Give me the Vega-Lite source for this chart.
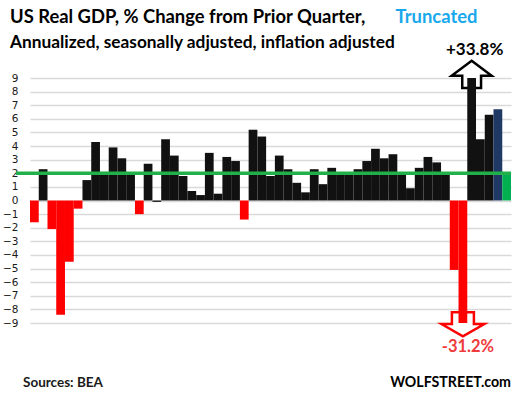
{
  "$schema": "https://vega.github.io/schema/vega-lite/v6.json",
  "width": 481,
  "height": 245,
  "autosize": {"type": "none"},
  "padding": {"left": 30, "top": 78, "right": 6, "bottom": 74},
  "background": "white",
  "config": {"view": {"stroke": null}},
  "data": {
    "values": [
      {"q": "2008Q1", "v": -1.6}, {"q": "2008Q2", "v": 2.3}, {"q": "2008Q3", "v": -2.1}, {"q": "2008Q4", "v": -8.4},
      {"q": "2009Q1", "v": -4.5}, {"q": "2009Q2", "v": -0.6}, {"q": "2009Q3", "v": 1.5}, {"q": "2009Q4", "v": 4.3},
      {"q": "2010Q1", "v": 2.1}, {"q": "2010Q2", "v": 3.9}, {"q": "2010Q3", "v": 3.1}, {"q": "2010Q4", "v": 2.0},
      {"q": "2011Q1", "v": -1.0}, {"q": "2011Q2", "v": 2.7}, {"q": "2011Q3", "v": -0.1}, {"q": "2011Q4", "v": 4.5},
      {"q": "2012Q1", "v": 3.3}, {"q": "2012Q2", "v": 1.8}, {"q": "2012Q3", "v": 0.7}, {"q": "2012Q4", "v": 0.4},
      {"q": "2013Q1", "v": 3.5}, {"q": "2013Q2", "v": 0.5}, {"q": "2013Q3", "v": 3.2}, {"q": "2013Q4", "v": 2.9},
      {"q": "2014Q1", "v": -1.4}, {"q": "2014Q2", "v": 5.2}, {"q": "2014Q3", "v": 4.7}, {"q": "2014Q4", "v": 1.8},
      {"q": "2015Q1", "v": 3.3}, {"q": "2015Q2", "v": 2.3}, {"q": "2015Q3", "v": 1.3}, {"q": "2015Q4", "v": 0.6},
      {"q": "2016Q1", "v": 2.3}, {"q": "2016Q2", "v": 1.2}, {"q": "2016Q3", "v": 2.4}, {"q": "2016Q4", "v": 2.0},
      {"q": "2017Q1", "v": 2.0}, {"q": "2017Q2", "v": 2.3}, {"q": "2017Q3", "v": 2.9}, {"q": "2017Q4", "v": 3.8},
      {"q": "2018Q1", "v": 3.1}, {"q": "2018Q2", "v": 3.4}, {"q": "2018Q3", "v": 2.0}, {"q": "2018Q4", "v": 0.9},
      {"q": "2019Q1", "v": 2.4}, {"q": "2019Q2", "v": 3.2}, {"q": "2019Q3", "v": 2.8}, {"q": "2019Q4", "v": 2.0},
      {"q": "2020Q1", "v": -5.1}, {"q": "2020Q2", "v": -31.2}, {"q": "2020Q3", "v": 33.8}, {"q": "2020Q4", "v": 4.5},
      {"q": "2021Q1", "v": 6.3}, {"q": "2021Q2", "v": 6.7}, {"q": "2021Q3", "v": 2.0}
    ]
  },
  "resolve": {"scale": {"y": "independent"}},
  "layer": [
    {
      "data": {"values": [{"label": "up"}]},
      "mark": {"type": "point", "shape": "M0,-0.68L1,0.07L0.47,0.07L0.47,0.68L-0.47,0.68L-0.47,0.07L-1,0.07Z", "size": 1600, "filled": true, "fill": "white", "stroke": "black", "strokeWidth": 2.5, "opacity": 1},
      "encoding": {
        "x": {"datum": "2020Q3", "type": "ordinal", "axis": null},
        "y": {"datum": 9.27, "type": "quantitative", "scale": {"domain": [-9, 9], "nice": false}, "axis": null}
      }
    },
    {
      "data": {"values": [{"label": "down"}]},
      "mark": {"type": "point", "shape": "M-0.55,-0.6L0.55,-0.6L0.55,-0.02L1.07,-0.02L0,0.6L-1.07,-0.02L-0.55,-0.02Z", "size": 1600, "filled": true, "fill": "white", "stroke": "#ff0000", "strokeWidth": 2.5, "opacity": 1},
      "encoding": {
        "x": {"datum": "2020Q2", "type": "ordinal", "axis": null},
        "y": {"datum": -9.1, "type": "quantitative", "scale": {"domain": [-9, 9], "nice": false}, "axis": null}
      }
    },
    {
      "mark": {"type": "bar"},
      "encoding": {
        "x": {
          "field": "q", "type": "ordinal",
          "scale": {
            "paddingInner": 0, "paddingOuter": 0,
            "domain": ["2008Q1","2008Q2","2008Q3","2008Q4","2009Q1","2009Q2","2009Q3","2009Q4","2010Q1","2010Q2","2010Q3","2010Q4","2011Q1","2011Q2","2011Q3","2011Q4","2012Q1","2012Q2","2012Q3","2012Q4","2013Q1","2013Q2","2013Q3","2013Q4","2014Q1","2014Q2","2014Q3","2014Q4","2015Q1","2015Q2","2015Q3","2015Q4","2016Q1","2016Q2","2016Q3","2016Q4","2017Q1","2017Q2","2017Q3","2017Q4","2018Q1","2018Q2","2018Q3","2018Q4","2019Q1","2019Q2","2019Q3","2019Q4","2020Q1","2020Q2","2020Q3","2020Q4","2021Q1","2021Q2","2021Q3"]
          },
          "axis": {
            "title": null, "domain": false, "ticks": false, "grid": false, "labelAngle": 0,
            "labelPadding": 37, "labelOverlap": false,
            "labelExpr": "((slice(datum.value, 4) == 'Q1' && slice(datum.value, 0, 4) != '2021') || datum.value == '2021Q2') ? slice(datum.value, 0, 4) : ''",
            "labelFont": "DejaVu Sans", "labelFontSize": 10.5, "labelColor": "#1a1a1a"
          }
        },
        "y": {
          "field": "v", "type": "quantitative",
          "scale": {"domain": [-9, 9], "clamp": true, "nice": false},
          "axis": {
            "title": null, "values": [-9, -8, -7, -6, -5, -4, -3, -2, -1, 0, 1, 2, 3, 4, 5, 6, 7, 8, 9],
            "grid": true, "gridColor": "#d9d9d9", "gridWidth": 1.3, "domain": false, "ticks": false,
            "labelPadding": 12, "labelFont": "DejaVu Sans", "labelFontSize": 10.5, "labelColor": "#1a1a1a"
          }
        },
        "color": {
          "condition": [
            {"test": "datum.q == '2021Q3'", "value": "#00b050"},
            {"test": "datum.q == '2021Q2'", "value": "#1f3864"},
            {"test": "datum.v < -0.3", "value": "#ff0000"}
          ],
          "value": "#111111"
        }
      }
    },
    {
      "data": {"values": [{"label": "avg"}]},
      "mark": {"type": "rule", "color": "#22b04b", "strokeWidth": 3.5, "xOffset": -14},
      "encoding": {
        "x": {"datum": "2008Q1", "type": "ordinal", "bandPosition": 0, "axis": null},
        "x2": {"datum": "2021Q3", "bandPosition": 1},
        "y": {"datum": 2.0, "type": "quantitative", "scale": {"domain": [-9, 9], "nice": false}, "axis": null}
      }
    },
    {
      "data": {"values": [{"label": "US Real GDP, % Change from Prior Quarter,"}]},
      "mark": {"type": "text", "font": "Lato", "fontSize": 18.4, "fontWeight": "bold", "color": "black", "baseline": "alphabetic", "align": "left", "dx": -20},
      "encoding": {
        "text": {"field": "label"},
        "x": {"datum": "2008Q1", "type": "ordinal", "bandPosition": 0, "axis": null},
        "y": {"datum": 13.04, "type": "quantitative", "scale": {"domain": [-9, 9], "nice": false}, "axis": null}
      }
    },
    {
      "data": {"values": [{"label": "Annualized, seasonally adjusted, inflation adjusted"}]},
      "mark": {"type": "text", "font": "Lato", "fontSize": 17.3, "fontWeight": "bold", "color": "black", "baseline": "alphabetic", "align": "left", "dx": -20},
      "encoding": {
        "text": {"field": "label"},
        "x": {"datum": "2008Q1", "type": "ordinal", "bandPosition": 0, "axis": null},
        "y": {"datum": 11.21, "type": "quantitative", "scale": {"domain": [-9, 9], "nice": false}, "axis": null}
      }
    },
    {
      "data": {"values": [{"label": "Truncated"}]},
      "mark": {"type": "text", "font": "Lato", "fontSize": 18.4, "fontWeight": "bold", "color": "#19a8ec", "baseline": "alphabetic", "align": "left", "dx": 7},
      "encoding": {
        "text": {"field": "label"},
        "x": {"datum": "2018Q2", "type": "ordinal", "bandPosition": 0, "axis": null},
        "y": {"datum": 13.04, "type": "quantitative", "scale": {"domain": [-9, 9], "nice": false}, "axis": null}
      }
    },
    {
      "data": {"values": [{"label": "+33.8%"}]},
      "mark": {"type": "text", "font": "Lato", "fontSize": 17, "fontWeight": "bold", "color": "black", "baseline": "middle", "dx": 3},
      "encoding": {
        "text": {"field": "label"},
        "x": {"datum": "2020Q3", "type": "ordinal", "axis": null},
        "y": {"datum": 11.05, "type": "quantitative", "scale": {"domain": [-9, 9], "nice": false}, "axis": null}
      }
    },
    {
      "data": {"values": [{"label": "-31.2%"}]},
      "mark": {"type": "text", "font": "Lato", "fontSize": 16.5, "fontWeight": "bold", "color": "#ef3b3b", "baseline": "middle", "dx": 5},
      "encoding": {
        "text": {"field": "label"},
        "x": {"datum": "2020Q2", "type": "ordinal", "axis": null},
        "y": {"datum": -10.76, "type": "quantitative", "scale": {"domain": [-9, 9], "nice": false}, "axis": null}
      }
    },
    {
      "data": {"values": [{"label": "Sources: BEA"}]},
      "mark": {"type": "text", "font": "Lato", "fontSize": 13.5, "fontWeight": "bold", "color": "#1a1a1a", "baseline": "alphabetic", "align": "left", "dx": -7},
      "encoding": {
        "text": {"field": "label"},
        "x": {"datum": "2008Q1", "type": "ordinal", "bandPosition": 0, "axis": null},
        "y": {"datum": -13.73, "type": "quantitative", "scale": {"domain": [-9, 9], "nice": false}, "axis": null}
      }
    },
    {
      "data": {"values": [{"label": "WOLFSTREET.com"}]},
      "mark": {"type": "text", "font": "Lato", "fontSize": 14.2, "fontWeight": "bold", "color": "black", "baseline": "alphabetic", "align": "right"},
      "encoding": {
        "text": {"field": "label"},
        "x": {"datum": "2021Q3", "type": "ordinal", "bandPosition": 1, "axis": null},
        "y": {"datum": -13.68, "type": "quantitative", "scale": {"domain": [-9, 9], "nice": false}, "axis": null}
      }
    }
  ]
}
